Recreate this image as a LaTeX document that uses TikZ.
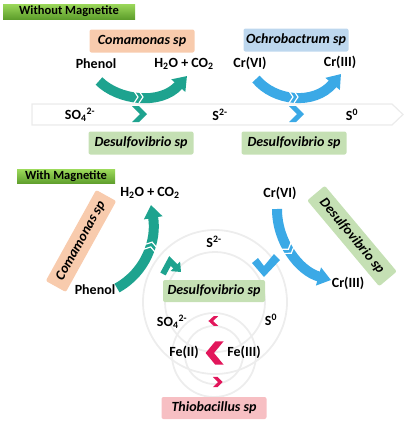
\documentclass[tikz,border=0pt]{standalone}
\usepackage{fontspec}
\setmainfont{Carlito}
\usetikzlibrary{arrows.meta}
\definecolor{comabox}{HTML}{F8CBAD}
\definecolor{ochrobox}{HTML}{BDD7EE}
\definecolor{desulfbox}{HTML}{C5E0B4}
\definecolor{thiobox}{HTML}{F7BFC3}
\definecolor{phenolteal}{HTML}{1EA38F}
\definecolor{chromblue}{HTML}{3BA9E6}
\definecolor{ironred}{HTML}{E2165B}
\definecolor{banlight}{HTML}{9BD85A}
\definecolor{bandark}{HTML}{5E9E2C}
\tikzset{
  chem/.style={font=\bfseries\fontsize{14}{16}\selectfont, inner sep=1pt},
  species/.style={font=\bfseries\itshape\fontsize{14}{16}\selectfont, rounded corners=2pt,
    minimum width=105pt, minimum height=23pt, inner sep=2pt},
  banner/.style={font=\bfseries\fontsize{12.5}{14}\selectfont, top color=banlight,
    bottom color=bandark, minimum height=15pt, inner sep=1pt},
  fatarrow/.style={line width=10pt, -{Triangle[width=18pt,length=13pt]}},
  notch/.style={draw=white, line width=1.2pt},
  ring/.style={draw=black!7, line width=1.8pt},
  band/.style={draw=black!8, fill=white, line width=1.2pt}
}
\begin{document}
\begin{tikzpicture}[x=1pt,y=-1pt]
  \useasboundingbox (0,0) rectangle (410,426);
  % without magnetite
  \node[banner, minimum width=132pt] (nomag) at (69,11.5) {Without Magnetite};
  \node[species, fill=comabox] (coma1) at (142,41) {Comamonas sp};
  \node[species, fill=ochrobox] (ochro) at (296,40) {Ochrobactrum sp};
  \node[chem] (phenol1) at (96,64) {Phenol};
  \node[chem] (water1) at (184,64) {H\textsubscript{2}O + CO\textsubscript{2}};
  \node[chem] (crvi1) at (250,63) {Cr(VI)};
  \node[chem] (criii1) at (340,62) {Cr(III)};
  \draw[band] (32,104) -- (392,104) -- (403,114.5) -- (392,125) -- (32,125) -- cycle;
  \node[chem] (so4a) at (80,115) {SO\textsubscript{4}\textsuperscript{2-}};
  \node[chem] (s2a) at (220,115) {S\textsuperscript{2-}};
  \node[chem] (s0a) at (352,115) {S\textsuperscript{0}};
  \node[species, fill=desulfbox] (desulf1) at (141,143) {Desulfovibrio sp};
  \node[species, fill=desulfbox] (desulf2) at (294,143) {Desulfovibrio sp};
  \coordinate (tealtail1) at (99,81);
  \coordinate (tealtip1) at (187,76);
  \coordinate (bluetail1) at (256,79);
  \coordinate (bluetip1) at (341,74);
  \draw[fatarrow, phenolteal] (tealtail1) .. controls (118,100) and (160,106) .. (tealtip1);
  \draw[fatarrow, chromblue] (bluetail1) .. controls (274,101) and (314,106) .. (bluetip1);
  \draw[notch, shift={(139,97)}] (-5,-6) -- (-1,0) -- (-5,6) (0,-6) -- (4,0) -- (0,6);
  \draw[notch, shift={(294,97)}] (-5,-6) -- (-1,0) -- (-5,6) (0,-6) -- (4,0) -- (0,6);
  \fill[phenolteal, shift={(140,114)}] (-8,-8) -- (-1,-8) -- (7,0) -- (-1,8) -- (-8,8) -- (0,0) -- cycle;
  \fill[chromblue, shift={(297,114)}] (-8,-8) -- (-1,-8) -- (7,0) -- (-1,8) -- (-8,8) -- (0,0) -- cycle;
  % with magnetite
  \node[banner, minimum width=98pt, minimum height=14pt] (withmag) at (66,176.5) {With Magnetite};
  \coordinate (bigring) at (215,302);
  \coordinate (smallring) at (214,355);
  \draw[ring] (bigring) circle[radius=72];
  \draw[ring] (bigring) circle[radius=50];
  \draw[ring] (smallring) circle[radius=42];
  \draw[ring] (smallring) circle[radius=29];
  \node[species, fill=comabox, minimum width=104pt, rotate=61] (coma2) at (81,241) {Comamonas sp};
  \node[species, fill=desulfbox, minimum width=112pt, rotate=-50] (desulf4) at (352,236) {Desulfovibrio sp};
  \node[chem] (water2) at (150,193) {H\textsubscript{2}O + CO\textsubscript{2}};
  \node[chem] (crvi2) at (280,193) {Cr(VI)};
  \node[chem] (s2b) at (214,242) {S\textsuperscript{2-}};
  \node[chem] (phenol2) at (95,290) {Phenol};
  \node[chem] (criii2) at (348,283) {Cr(III)};
  \node[species, fill=desulfbox, minimum width=102pt, minimum height=22pt] (desulf3) at (214,291) {Desulfovibrio sp};
  \node[chem] (so4b) at (172,322) {SO\textsubscript{4}\textsuperscript{2-}};
  \node[chem] (s0b) at (271,320) {S\textsuperscript{0}};
  \node[chem] (fe2) at (184,352) {Fe(II)};
  \node[chem] (fe3) at (244,352) {Fe(III)};
  \node[species, fill=thiobox, minimum height=22pt] (thio) at (214,408) {Thiobacillus sp};
  \coordinate (tealtail2) at (117,288);
  \coordinate (tealtip2) at (151,205);
  \coordinate (bluetail2) at (277,209);
  \coordinate (bluetip2) at (331,280);
  \draw[fatarrow, phenolteal] (tealtail2) .. controls (146,272) and (157,240) .. (tealtip2);
  \draw[fatarrow, chromblue] (bluetail2) .. controls (277,242) and (299,271) .. (bluetip2);
  \draw[notch, shift={(151,246)}, rotate=74] (-5,-6) -- (-1,0) -- (-5,6) (0,-6) -- (4,0) -- (0,6);
  \draw[notch, shift={(289,250)}, rotate=-55] (-5,-6) -- (-1,0) -- (-5,6) (0,-6) -- (4,0) -- (0,6);
  \draw[phenolteal, line width=6pt, -{Triangle[width=13pt,length=8pt]}] (163,274) -- (170,261) -- (181,272);
  \fill[chromblue] (252,263) -- (264,277) -- (280,260) -- (274,254) -- (264,266) -- (258,258) -- cycle;
  \fill[ironred, shift={(213,321)}, xscale=-0.65, yscale=0.6] (-8,-8) -- (-1,-8) -- (7,0) -- (-1,8) -- (-8,8) -- (0,0) -- cycle;
  \fill[ironred, shift={(214,353)}, xscale=-1.2, yscale=1.45] (-8,-8) -- (-1,-8) -- (7,0) -- (-1,8) -- (-8,8) -- (0,0) -- cycle;
  \fill[ironred, shift={(218,382)}, xscale=0.65, yscale=0.65] (-8,-8) -- (-1,-8) -- (7,0) -- (-1,8) -- (-8,8) -- (0,0) -- cycle;
\end{tikzpicture}
\end{document}
